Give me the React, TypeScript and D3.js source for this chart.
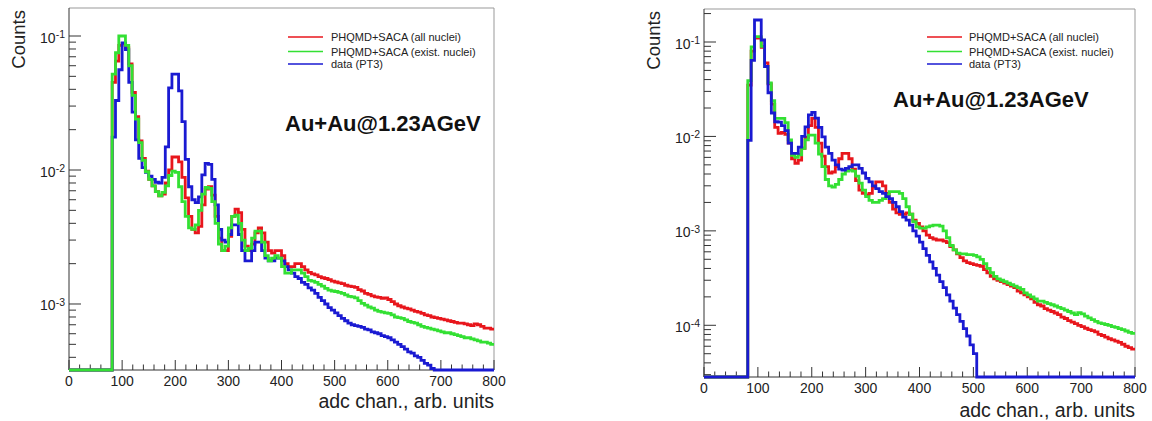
import React from "react";
import * as d3 from "d3";

// ---------- data ----------
const binWidth = 6.25; // adc channels per bin
const firstEdge = 81.25; // lower edge of first filled bin
const xTicks = [0, 100, 200, 300, 400, 500, 600, 700, 800];
const legendLabels = ["PHQMD+SACA (all nuclei)", "PHQMD+SACA (exist. nuclei)", "data (PT3)"];
const titleText = "Au+Au@1.23AGeV";
const xTitle = "adc chan., arb. units";
const yTitle = "Counts";

// Left panel
const leftRed = [
  0.045, 0.065, 0.085, 0.088, 0.082, 0.062, 0.038, 0.025, 0.0165, 0.0122,
  0.0098, 0.0085, 0.0076, 0.0069, 0.0064, 0.0066, 0.008, 0.01, 0.0125, 0.0125,
  0.0115, 0.0088, 0.0062, 0.0045, 0.0036, 0.0034, 0.0038, 0.0055, 0.0072, 0.0075,
  0.0065, 0.0045, 0.0031, 0.0025, 0.0025, 0.0032, 0.0045, 0.0051, 0.0048, 0.0036,
  0.0027, 0.0025, 0.0028, 0.0034, 0.0037, 0.0034, 0.0029, 0.0025, 0.0024, 0.0025,
  0.0025, 0.0023, 0.002, 0.0019, 0.0019, 0.002, 0.002, 0.0019, 0.0018, 0.00172,
  0.00168, 0.00165, 0.0016, 0.00157, 0.00155, 0.00152, 0.00148, 0.00146, 0.00144, 0.00142,
  0.00138, 0.00136, 0.00135, 0.00133, 0.00128, 0.00125, 0.0012, 0.00118, 0.00115, 0.00113,
  0.00112, 0.0011, 0.00111, 0.00108, 0.00104, 0.001, 0.00097, 0.00095, 0.00093, 0.00092,
  0.0009, 0.00088, 0.00087, 0.00085, 0.00083, 0.00082, 0.0008, 0.00079, 0.00078, 0.00077,
  0.00076, 0.00075, 0.00074, 0.00073, 0.00072, 0.00072, 0.00071, 0.0007, 0.00069, 0.00071,
  0.0007, 0.00068, 0.00066, 0.00066, 0.00065,
];
const leftGreen = [
  0.052, 0.075, 0.1, 0.1, 0.085, 0.06, 0.036, 0.024, 0.016, 0.0118,
  0.0097, 0.0085, 0.0076, 0.0069, 0.0064, 0.0068, 0.0076, 0.0091, 0.0098, 0.0096,
  0.0075, 0.0058, 0.0045, 0.0037, 0.0036, 0.0039, 0.005, 0.0066, 0.0074, 0.0073,
  0.0058, 0.004, 0.0028, 0.0025, 0.0027, 0.0037, 0.0045, 0.0046, 0.004, 0.003,
  0.0025, 0.0026, 0.0031, 0.0035, 0.0035, 0.0029, 0.0023, 0.0021, 0.0022, 0.0023,
  0.0022, 0.0019, 0.0017, 0.0017, 0.0018, 0.0018, 0.0018, 0.0017, 0.0016, 0.0015,
  0.00148, 0.00145, 0.0014, 0.00136, 0.00131, 0.00127, 0.00125, 0.00124, 0.00122, 0.0012,
  0.00117, 0.00114, 0.00113, 0.00111, 0.00106, 0.00101, 0.00098, 0.00095, 0.00093, 0.0009,
  0.00088, 0.00087, 0.00086, 0.00085, 0.00083, 0.0008, 0.00079, 0.00078, 0.00076, 0.00074,
  0.00073, 0.00072, 0.0007, 0.00068, 0.00067, 0.00066, 0.00065, 0.00064, 0.00063, 0.00062,
  0.00061, 0.00061, 0.0006, 0.00059, 0.00058, 0.00057, 0.00056, 0.00056, 0.00055, 0.00054,
  0.00053, 0.00052, 0.00052, 0.00051, 0.0005,
];
const leftBlue = [
  0.0176, 0.033, 0.056, 0.089, 0.079, 0.045, 0.027, 0.0168, 0.0122, 0.0104,
  0.0096, 0.009, 0.0085, 0.0081, 0.008, 0.0088, 0.0149, 0.041, 0.052, 0.052,
  0.039, 0.023, 0.012, 0.0075, 0.006, 0.0057, 0.0063, 0.0092, 0.0112, 0.011,
  0.0085, 0.0055, 0.0036, 0.003, 0.0029, 0.0033, 0.0039, 0.0039, 0.0033, 0.0025,
  0.0021, 0.0021, 0.0025, 0.0029, 0.0029, 0.0025, 0.0022, 0.0021, 0.0021, 0.0022,
  0.0022, 0.0021, 0.0019, 0.0018, 0.0017, 0.0016, 0.00155, 0.00145, 0.0014, 0.00132,
  0.00127, 0.0012, 0.00112, 0.00106, 0.001, 0.00094, 0.0009, 0.00086, 0.00082, 0.00078,
  0.00075, 0.00072, 0.0007, 0.00069, 0.00068, 0.00067, 0.00065, 0.00064, 0.00062, 0.00061,
  0.0006, 0.00058, 0.00057, 0.00056, 0.00054, 0.00052, 0.0005, 0.00048, 0.00046, 0.00044,
  0.00043, 0.00041, 0.0004, 0.00038, 0.00036, 0.00035, 0.00033, 0, 0, 0,
  0, 0, 0, 0, 0, 0, 0, 0, 0, 0,
  0, 0, 0, 0, 0,
];

// Right panel
const rightRed = [
  0.035, 0.08, 0.11, 0.11, 0.088, 0.06, 0.036, 0.022, 0.0125, 0.0108,
  0.011, 0.0105, 0.0085, 0.0058, 0.0052, 0.0056, 0.0075, 0.0098, 0.013, 0.0155,
  0.0125, 0.0085, 0.0062, 0.0048, 0.0041, 0.0042, 0.0048, 0.0058, 0.0066, 0.0066,
  0.0058, 0.0045, 0.0034, 0.0027, 0.0025, 0.0024, 0.0025, 0.0029, 0.0033, 0.0033,
  0.003, 0.0025, 0.002, 0.0017, 0.00155, 0.0015, 0.0015, 0.00155, 0.0015, 0.0013,
  0.0012, 0.0011, 0.001, 0.0009, 0.00085, 0.00082, 0.0008, 0.0008, 0.00078, 0.00075,
  0.00068, 0.00063, 0.00057, 0.00052, 0.00048, 0.00046, 0.00045, 0.00044, 0.00043, 0.00042,
  0.00039, 0.00036, 0.00033, 0.00031, 0.0003, 0.00029, 0.00028, 0.00027, 0.00026, 0.00025,
  0.00023, 0.00022, 0.00021, 0.0002, 0.00019, 0.000175, 0.000165, 0.00016, 0.00015, 0.000145,
  0.00014, 0.000135, 0.00013, 0.000122, 0.000118, 0.000112, 0.000108, 0.000104, 0.0001, 0.000097,
  0.000093, 0.00009, 0.000088, 0.000085, 0.00008, 0.000078, 0.000075, 0.000072, 0.00007, 0.000068,
  0.000066, 0.000063, 0.00006, 0.000058, 0.000056,
];
const rightGreen = [
  0.039, 0.089, 0.114, 0.114, 0.09, 0.055, 0.037, 0.024, 0.0155, 0.0155,
  0.0155, 0.014, 0.0092, 0.0063, 0.006, 0.0064, 0.0075, 0.0092, 0.0103, 0.0103,
  0.0085, 0.0065, 0.0048, 0.0035, 0.003, 0.0029, 0.0031, 0.0035, 0.004, 0.0043,
  0.0044, 0.0043, 0.0038, 0.0032, 0.0027, 0.0023, 0.0021, 0.002, 0.002, 0.0021,
  0.0022, 0.0024, 0.0026, 0.0026, 0.0026, 0.0025, 0.0022, 0.0018, 0.0015, 0.00125,
  0.0011, 0.00107, 0.00107, 0.0011, 0.00113, 0.00115, 0.00115, 0.00112, 0.001, 0.00085,
  0.0007, 0.00063, 0.00058, 0.00057, 0.00057, 0.00056, 0.00056, 0.00055, 0.00053, 0.0005,
  0.00045, 0.0004, 0.00036, 0.00033, 0.00031, 0.0003, 0.00029, 0.00028, 0.00027, 0.00026,
  0.00025, 0.00024, 0.00022, 0.00021, 0.0002, 0.00019, 0.00018, 0.00018, 0.000175, 0.00017,
  0.000165, 0.00016, 0.000155, 0.00015, 0.000145, 0.00014, 0.000135, 0.00013, 0.000136, 0.000132,
  0.000125, 0.00012, 0.000115, 0.00011, 0.000106, 0.000104, 0.000102, 0.0001, 0.000097, 0.000095,
  0.000092, 0.00009, 0.000087, 0.000084, 0.000082,
];
const rightBlue = [
  0.0091, 0.064, 0.171, 0.171, 0.105, 0.055, 0.029, 0.0177, 0.0143, 0.0142,
  0.013, 0.0115, 0.0085, 0.0066, 0.0066, 0.0077, 0.01, 0.0126, 0.0169, 0.018,
  0.0156, 0.0125, 0.0099, 0.0077, 0.0066, 0.0056, 0.005, 0.0045, 0.0044, 0.0046,
  0.0048, 0.005, 0.005, 0.0046, 0.0041, 0.0036, 0.0033, 0.003, 0.0028, 0.0026,
  0.0025, 0.0023, 0.0022, 0.002, 0.0018, 0.0016, 0.0014, 0.0013, 0.00115, 0.001,
  0.00088, 0.00076, 0.00065, 0.00055, 0.00047, 0.0004, 0.00034, 0.00029, 0.00025, 0.00021,
  0.00018, 0.000152, 0.00013, 0.00011, 0.000092, 0.000077, 0.000062, 0.00005, 0, 0,
  0, 0, 0, 0, 0, 0, 0, 0, 0, 0,
  0, 0, 0, 0, 0, 0, 0, 0, 0, 0,
  0, 0, 0, 0, 0, 0, 0, 0, 0, 0,
  0, 0, 0, 0, 0, 0, 0, 0, 0, 0,
  0, 0, 0, 0, 0,
];

const RED = "#e8161c";
const GREEN = "#33e033";
const BLUE = "#1a1ad2";
const FONT = "'Liberation Sans', Arial, Helvetica, sans-serif";

type Series = { values: number[]; color: string };

type PanelProps = {
  left: number;
  right: number;
  top: number;
  bottom: number;
  yMin: number;
  yMax: number;
  series: Series[]; // drawing order
  legendLineX: [number, number];
  legendTextX: number;
  legendY: number[];
  titleX: number;
  titleY: number;
  countsX: number;
  xTitleY: number;
};

function histPath(values: number[], x: d3.ScaleLinear<number, number>, y: d3.ScaleLogarithmic<number, number>, yb: number) {
  const pts: [number, number][] = [];
  pts.push([x(0), yb]);
  pts.push([x(firstEdge), yb]);
  values.forEach((v, i) => {
    const yy = v > 0 ? Math.min(y(v), yb) : yb;
    const e0 = firstEdge + i * binWidth;
    pts.push([x(e0), yy]);
    pts.push([x(e0 + binWidth), yy]);
  });
  return d3.line()(pts) || "";
}

function Panel(p: PanelProps) {
  const x = d3.scaleLinear().domain([0, 800]).range([p.left, p.right]);
  const y = d3.scaleLog().domain([p.yMin, p.yMax]).range([p.bottom, p.top]).clamp(true);
  const eLo = Math.floor(Math.log10(p.yMin));
  const eHi = Math.floor(Math.log10(p.yMax));
  const majors: number[] = [];
  const minors: number[] = [];
  for (let e = eLo; e <= eHi; e++) {
    for (let m = 1; m <= 9; m++) {
      const v = m * Math.pow(10, e);
      if (v < p.yMin || v > p.yMax) continue;
      if (m === 1) majors.push(e);
      else minors.push(v);
    }
  }
  const xMinor = d3.range(0, 801, 20).filter((v) => v % 100 !== 0);
  const axisColor = "#333";
  const legendColors = [RED, GREEN, BLUE];
  return (
    <g fontFamily={FONT}>
      {/* frame */}
      <line x1={p.left} x2={p.right} y1={p.top} y2={p.top} stroke="#999" strokeWidth={1} />
      <line x1={p.right} x2={p.right} y1={p.top} y2={p.bottom} stroke="#999" strokeWidth={1} />
      <line x1={p.left} x2={p.left} y1={p.top} y2={p.bottom} stroke={axisColor} strokeWidth={1} />
      <line x1={p.left} x2={p.right} y1={p.bottom} y2={p.bottom} stroke={axisColor} strokeWidth={1} />
      {/* y ticks */}
      {majors.map((e) => (
        <g key={"ym" + e}>
          <line x1={p.left} x2={p.left + 12} y1={y(Math.pow(10, e))} y2={y(Math.pow(10, e))} stroke={axisColor} />
          <text x={p.left - 4} y={y(Math.pow(10, e)) + 6.5} textAnchor="end" fontSize={14} fill="#222">
            10
            <tspan dy={-4.5} fontSize={10.5}>
              {"-" + Math.abs(e)}
            </tspan>
          </text>
        </g>
      ))}
      {minors.map((v, i) => (
        <line key={"yn" + i} x1={p.left} x2={p.left + 7} y1={y(v)} y2={y(v)} stroke={axisColor} />
      ))}
      {/* x ticks */}
      {xTicks.map((t) => (
        <g key={"xt" + t}>
          <line x1={x(t)} x2={x(t)} y1={p.bottom} y2={p.bottom - 10} stroke={axisColor} />
          <text x={x(t)} y={p.bottom + 15.5} textAnchor="middle" fontSize={14} fill="#222">
            {t}
          </text>
        </g>
      ))}
      {xMinor.map((t) => (
        <line key={"xn" + t} x1={x(t)} x2={x(t)} y1={p.bottom} y2={p.bottom - 5.5} stroke={axisColor} />
      ))}
      {/* histograms */}
      {p.series.map((s, i) => (
        <path key={"h" + i} d={histPath(s.values, x, y, p.bottom)} fill="none" stroke={s.color} strokeWidth={2.8} strokeLinejoin="miter" />
      ))}
      {/* legend */}
      {legendLabels.map((lab, i) => (
        <g key={"lg" + i}>
          <line x1={p.legendLineX[0]} x2={p.legendLineX[1]} y1={p.legendY[i]} y2={p.legendY[i]} stroke={legendColors[i]} strokeWidth={1.5} />
          <text x={p.legendTextX} y={p.legendY[i] + 4} fontSize={11} fill="#222">
            {lab}
          </text>
        </g>
      ))}
      <text x={p.titleX} y={p.titleY} fontSize={22} fontWeight="bold" fill="#111">
        {titleText}
      </text>
      {/* axis titles */}
      <text x={p.right} y={p.xTitleY} textAnchor="end" fontSize={19.5} fill="#222">
        {xTitle}
      </text>
      <text transform={`translate(${p.countsX},${p.top + 2}) rotate(-90)`} textAnchor="end" fontSize={18.5} fill="#222">
        {yTitle}
      </text>
    </g>
  );
}

export default function App() {
  return (
    <svg width={1152} height={421} style={{ position: "absolute", left: 0, top: 0, background: "#fff" }}>
      <rect x={0} y={0} width={1152} height={421} fill="#fff" />
      <Panel
        left={69}
        right={494}
        top={8}
        bottom={370}
        yMin={3.217e-4}
        yMax={0.1618}
        series={[
          { values: leftRed, color: RED },
          { values: leftBlue, color: BLUE },
          { values: leftGreen, color: GREEN },
        ]}
        legendLineX={[288, 323]}
        legendTextX={331}
        legendY={[37, 51.5, 64]}
        titleX={285}
        titleY={130.5}
        countsX={25}
        xTitleY={408}
      />
      <Panel
        left={704}
        right={1135}
        top={9}
        bottom={377}
        yMin={2.834e-5}
        yMax={0.2236}
        series={[
          { values: rightRed, color: RED },
          { values: rightGreen, color: GREEN },
          { values: rightBlue, color: BLUE },
        ]}
        legendLineX={[927, 962]}
        legendTextX={969}
        legendY={[37, 51.5, 64]}
        titleX={893}
        titleY={107}
        countsX={660}
        xTitleY={416.5}
      />
    </svg>
  );
}
